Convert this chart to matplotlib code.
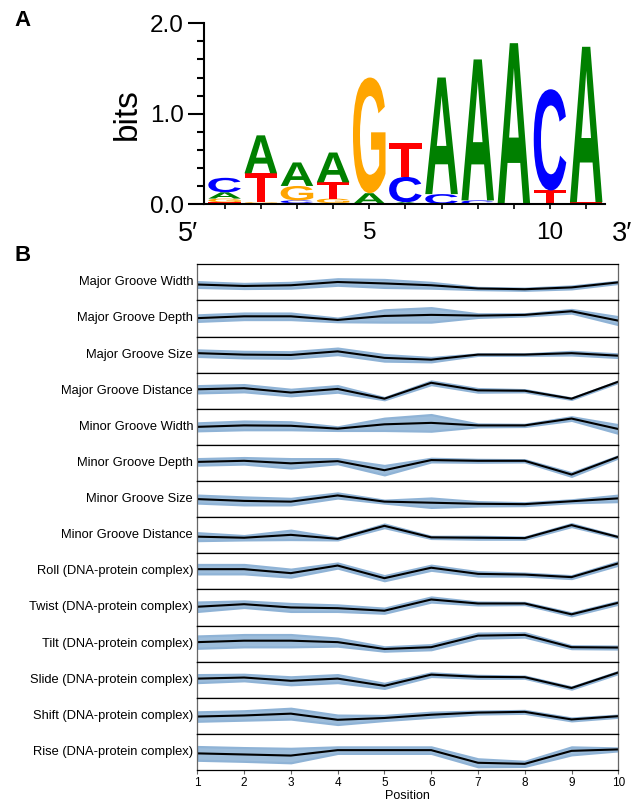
import numpy as np
import matplotlib
matplotlib.use("Agg")
import matplotlib.pyplot as plt
import matplotlib.transforms as mtransforms
from matplotlib.textpath import TextPath
from matplotlib.patches import PathPatch
from matplotlib.font_manager import FontProperties
from matplotlib.ticker import MultipleLocator

plt.rcParams['font.family'] = ['Liberation Sans', 'DejaVu Sans']

# ---- Panel A: motif logo (information content in bits per base) ----
logo_positions = list(range(1, 12))
A_bits = [0.07, 0.42, 0.26, 0.33, 0.12, 0.02, 1.29, 1.56, 1.78, 0.00, 1.72]
C_bits = [0.16, 0.01, 0.03, 0.01, 0.00, 0.28, 0.11, 0.04, 0.00, 1.12, 0.00]
G_bits = [0.04, 0.01, 0.16, 0.05, 1.28, 0.00, 0.00, 0.00, 0.00, 0.00, 0.00]
T_bits = [0.02, 0.32, 0.01, 0.18, 0.00, 0.37, 0.00, 0.00, 0.00, 0.15, 0.02]

BASE_COLORS = {'A': '#008000', 'C': '#0000ff', 'G': '#ffa500', 'T': '#ff0000'}

# ---- Panel B: DNA shape profiles (scaled to each row, mean and spread) ----
shape_positions = list(range(1, 11))
major_groove_width = [0.44, 0.40, 0.42, 0.51, 0.47, 0.42, 0.33, 0.31, 0.36, 0.50]
major_groove_width_sd = [0.08, 0.07, 0.08, 0.09, 0.11, 0.08, 0.03, 0.03, 0.04, 0.03]
major_groove_depth = [0.51, 0.56, 0.56, 0.46, 0.57, 0.60, 0.58, 0.60, 0.70, 0.44]
major_groove_depth_sd = [0.09, 0.09, 0.09, 0.05, 0.17, 0.20, 0.05, 0.03, 0.05, 0.11]
major_groove_size = [0.54, 0.50, 0.49, 0.59, 0.41, 0.36, 0.50, 0.50, 0.54, 0.47]
major_groove_size_sd = [0.09, 0.09, 0.09, 0.09, 0.09, 0.06, 0.02, 0.02, 0.05, 0.05]
major_groove_distance = [0.54, 0.57, 0.45, 0.55, 0.28, 0.72, 0.51, 0.50, 0.28, 0.75]
major_groove_distance_sd = [0.10, 0.10, 0.09, 0.09, 0.03, 0.05, 0.05, 0.03, 0.02, 0.02]
minor_groove_width = [0.50, 0.54, 0.53, 0.45, 0.57, 0.61, 0.54, 0.54, 0.73, 0.44]
minor_groove_width_sd = [0.11, 0.12, 0.11, 0.05, 0.17, 0.23, 0.04, 0.03, 0.05, 0.12]
minor_groove_depth = [0.53, 0.56, 0.49, 0.55, 0.30, 0.58, 0.56, 0.56, 0.18, 0.67]
minor_groove_depth_sd = [0.09, 0.09, 0.13, 0.07, 0.13, 0.05, 0.04, 0.03, 0.05, 0.03]
minor_groove_size = [0.50, 0.45, 0.43, 0.60, 0.43, 0.40, 0.37, 0.36, 0.44, 0.52]
minor_groove_size_sd = [0.11, 0.11, 0.09, 0.07, 0.04, 0.13, 0.06, 0.04, 0.04, 0.09]
minor_groove_distance = [0.46, 0.43, 0.51, 0.40, 0.76, 0.44, 0.43, 0.42, 0.78, 0.45]
minor_groove_distance_sd = [0.11, 0.06, 0.13, 0.03, 0.05, 0.03, 0.04, 0.03, 0.04, 0.02]
roll = [0.56, 0.56, 0.45, 0.66, 0.31, 0.60, 0.43, 0.41, 0.34, 0.72]
roll_sd = [0.13, 0.13, 0.11, 0.07, 0.07, 0.07, 0.06, 0.04, 0.04, 0.05]
twist = [0.52, 0.59, 0.50, 0.48, 0.41, 0.72, 0.61, 0.61, 0.31, 0.63]
twist_sd = [0.13, 0.09, 0.11, 0.09, 0.07, 0.07, 0.04, 0.03, 0.04, 0.04]
tilt = [0.54, 0.58, 0.58, 0.54, 0.35, 0.40, 0.72, 0.74, 0.40, 0.39]
tilt_sd = [0.17, 0.17, 0.17, 0.11, 0.06, 0.07, 0.07, 0.06, 0.04, 0.04]
slide = [0.53, 0.56, 0.47, 0.53, 0.33, 0.64, 0.58, 0.57, 0.27, 0.70]
slide_sd = [0.11, 0.09, 0.11, 0.11, 0.07, 0.05, 0.04, 0.03, 0.03, 0.03]
shift = [0.48, 0.51, 0.56, 0.39, 0.44, 0.53, 0.59, 0.61, 0.40, 0.49]
shift_sd = [0.13, 0.13, 0.15, 0.13, 0.07, 0.07, 0.04, 0.04, 0.04, 0.03]
rise = [0.46, 0.43, 0.40, 0.55, 0.55, 0.55, 0.20, 0.17, 0.53, 0.57]
rise_sd = [0.19, 0.19, 0.20, 0.09, 0.09, 0.09, 0.11, 0.07, 0.11, 0.04]

shape_rows = [
    ("Major Groove Width", major_groove_width, major_groove_width_sd),
    ("Major Groove Depth", major_groove_depth, major_groove_depth_sd),
    ("Major Groove Size", major_groove_size, major_groove_size_sd),
    ("Major Groove Distance", major_groove_distance, major_groove_distance_sd),
    ("Minor Groove Width", minor_groove_width, minor_groove_width_sd),
    ("Minor Groove Depth", minor_groove_depth, minor_groove_depth_sd),
    ("Minor Groove Size", minor_groove_size, minor_groove_size_sd),
    ("Minor Groove Distance", minor_groove_distance, minor_groove_distance_sd),
    ("Roll (DNA-protein complex)", roll, roll_sd),
    ("Twist (DNA-protein complex)", twist, twist_sd),
    ("Tilt (DNA-protein complex)", tilt, tilt_sd),
    ("Slide (DNA-protein complex)", slide, slide_sd),
    ("Shift (DNA-protein complex)", shift, shift_sd),
    ("Rise (DNA-protein complex)", rise, rise_sd),
]

LOGO_FONT = FontProperties(family='Liberation Sans', weight='bold')


def draw_letter(ax, letter, x, y0, height, width=0.9):
    """Stretch a glyph so it fills the box [x-w/2, x+w/2] x [y0, y0+height]."""
    path = TextPath((0, 0), letter, size=1, prop=LOGO_FONT)
    ext = path.get_extents()
    tr = (mtransforms.Affine2D()
          .translate(-ext.x0, -ext.y0)
          .scale(width / ext.width, height / ext.height)
          .translate(x - width / 2, y0))
    ax.add_patch(PathPatch(tr.transform_path(path), facecolor=BASE_COLORS[letter],
                           edgecolor='none'))


fig = plt.figure(figsize=(6.41, 8.09), dpi=100)

# ---- Panel A ----
axA = fig.add_axes([0.3183, 0.7478, 0.6255, 0.2234])
for i, pos in enumerate(logo_positions):
    stack = sorted([('A', A_bits[i]), ('C', C_bits[i]), ('G', G_bits[i]), ('T', T_bits[i])],
                   key=lambda t: t[1])
    y0 = 0.0
    for base, h in stack:
        if h <= 0:
            continue
        draw_letter(axA, base, pos, y0, h)
        y0 += h

axA.set_xlim(0.43, 11.52)
axA.set_ylim(0, 2.0)
for s in ['top', 'right']:
    axA.spines[s].set_visible(False)
for s in ['left', 'bottom']:
    axA.spines[s].set_linewidth(1.5)
axA.set_yticks([0, 1, 2])
axA.set_yticklabels(['0.0', '1.0', '2.0'])
axA.yaxis.set_minor_locator(MultipleLocator(0.2))
axA.tick_params(axis='y', which='major', length=11.5, width=1.5, labelsize=17.5, pad=3)
axA.tick_params(axis='y', which='minor', length=5, width=1.5)
axA.set_xticks(logo_positions)
axA.set_xticklabels(['5' if p == 5 else '10' if p == 10 else '' for p in logo_positions])
axA.tick_params(axis='x', length=3.6, width=1.2, labelsize=17.5, pad=9)
axA.set_ylabel('bits', fontsize=24, labelpad=5)
blend = mtransforms.blended_transform_factory(axA.transData, axA.transAxes)
axA.text(0, -0.095, "5\u2032", transform=blend, ha='center', va='top',
         fontsize=19.5, clip_on=False)
axA.text(12, -0.095, "3\u2032", transform=blend, ha='center', va='top',
         fontsize=19.5, clip_on=False)

fig.text(14 / 641, 1 - 10 / 809, 'A', fontsize=16, fontweight='bold', va='top', ha='left')
fig.text(14 / 641, 1 - 245 / 809, 'B', fontsize=16, fontweight='bold', va='top', ha='left')

# ---- Panel B ----
left, right = 197.3 / 641, 618.3 / 641
top, bottom = 1 - 264.3 / 809, 1 - 770 / 809
gs = fig.add_gridspec(len(shape_rows), 1, left=left, right=right, top=top, bottom=bottom,
                      hspace=0)
x = np.array(shape_positions)
for r, (label, mean, sd) in enumerate(shape_rows):
    ax = fig.add_subplot(gs[r, 0])
    mean = np.array(mean)
    sd = np.array(sd)
    ax.fill_between(x, mean - sd, mean + sd, facecolor='#9dbddb', edgecolor='#8fb3d6',
                    linewidth=1.6)
    ax.plot(x, mean, color='black', linewidth=1.5)
    ax.set_xlim(1, 10)
    ax.set_ylim(0, 1)
    ax.set_yticks([])
    for s in ['top', 'bottom']:
        ax.spines[s].set_color('black')
        ax.spines[s].set_linewidth(0.9)
    for s in ['left', 'right']:
        ax.spines[s].set_color('#666666')
        ax.spines[s].set_linewidth(0.9)
    ax.text(-0.01, 0.5, label, transform=ax.transAxes, ha='right', va='center',
            fontsize=9.3)
    if r == len(shape_rows) - 1:
        ax.set_xticks(shape_positions)
        ax.tick_params(axis='x', length=3, width=0.8, color='#666666', labelsize=8.5, pad=2)
        ax.set_xlabel('Position', fontsize=9, labelpad=1)
    else:
        ax.set_xticks([])

fig.savefig('out.png', dpi=100)
